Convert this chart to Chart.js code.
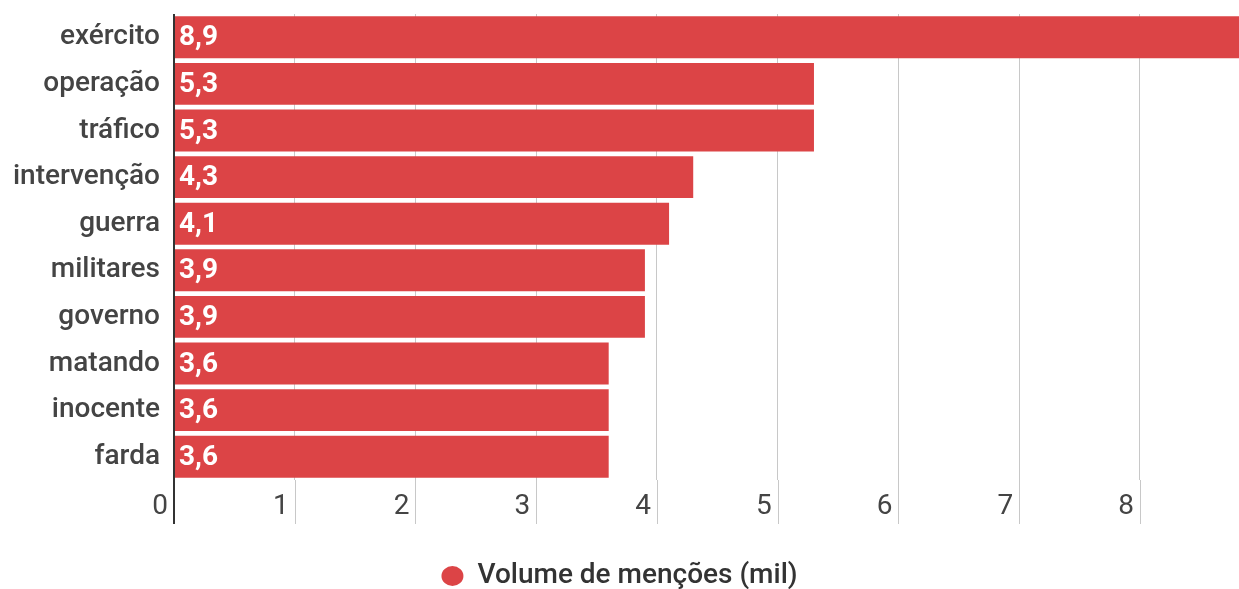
<!DOCTYPE html>
<html><head><meta charset="utf-8">
<script src="https://cdn.jsdelivr.net/npm/chart.js@4"></script>
<style>html,body{margin:0;padding:0;background:#fff}#wrap{width:1239px;height:589px}</style>
</head><body><div id="wrap"><canvas id="c"></canvas></div>
<script>
const categories = ['exército','operação','tráfico','intervenção','guerra','militares','governo','matando','inocente','farda'];
const values = [8.9,5.3,5.3,4.3,4.1,3.9,3.9,3.6,3.6,3.6];
const xTicks = [0,1,2,3,4,5,6,7,8];
const seriesName = 'Volume de menções (mil)';
const RED = '#DC4446';
const FONT = 'Roboto';

const valueLabels = {
  id:'valueLabels',
  afterDatasetsDraw(chart){
    const ctx = chart.ctx;
    const meta = chart.getDatasetMeta(0);
    ctx.save();
    ctx.font = 'bold 28px ' + FONT;
    ctx.fillStyle = '#fff';
    ctx.textAlign = 'left';
    ctx.textBaseline = 'middle';
    meta.data.forEach((bar,i)=>{
      const v = chart.data.datasets[0].data[i];
      ctx.fillText(String(v).replace('.',','), bar.base + 4, bar.y + 1);
    });
    ctx.restore();
  }
};

// extend the x gridlines below the plot area, like the reference's tick marks
const gridExtend = {
  id:'gridExtend',
  beforeDatasetsDraw(chart){
    const ctx = chart.ctx, xs = chart.scales.x, area = chart.chartArea;
    ctx.save();
    xs.ticks.forEach(t=>{
      const px = Math.round(xs.getPixelForValue(t.value));
      const zero = t.value === 0;
      ctx.strokeStyle = zero ? '#333' : '#c8c8c8';
      ctx.lineWidth = zero ? 2 : 1;
      ctx.beginPath();
      const off = zero ? 0 : 0.5;
      ctx.moveTo(px + off, area.bottom);
      ctx.lineTo(px + off, area.bottom + 44);
      ctx.stroke();
    });
    ctx.restore();
  }
};

new Chart(document.getElementById('c'), {
  type:'bar',
  data:{labels:categories, datasets:[{label:seriesName, data:values, backgroundColor:RED, borderWidth:0, barPercentage:0.9, categoryPercentage:1}]},
  plugins:[valueLabels, gridExtend],
  options:{
    indexAxis:'y', responsive:true, maintainAspectRatio:false, animation:false,
    layout:{padding:{top:14,right:0,left:0,bottom:-11}},
    scales:{
      x:{min:0,max:8.82,
        afterBuildTicks(s){ s.ticks = xTicks.map(v=>({value:v})); },
        afterFit(s){ s.height = 44; s.paddingLeft = 0; s.paddingRight = 0; },
        border:{display:false},
        grid:{color:c=>c.tick && c.tick.value===0 ? '#333' : '#c8c8c8', lineWidth:c=>c.tick && c.tick.value===0 ? 2 : 1, drawTicks:false},
        ticks:{autoSkip:false, align:'end', labelOffset:-6, padding:10, color:'#444', font:{family:FONT,size:28}}
      },
      y:{grid:{display:false, drawTicks:false}, border:{display:false},
        afterFit(s){ s.width = 174; s.paddingTop = 0; s.paddingBottom = 0; },
        ticks:{padding:14, color:'#444', font:{family:FONT,size:28,weight:'500'}}
      }
    },
    plugins:{
      legend:{position:'bottom', labels:{usePointStyle:true, pointStyle:'circle', boxHeight:14, pointStyleWidth:22, color:'#333', font:{family:FONT,size:28,weight:'500'}, padding:38}},
      tooltip:{enabled:false}
    }
  }
});
</script></body></html>
